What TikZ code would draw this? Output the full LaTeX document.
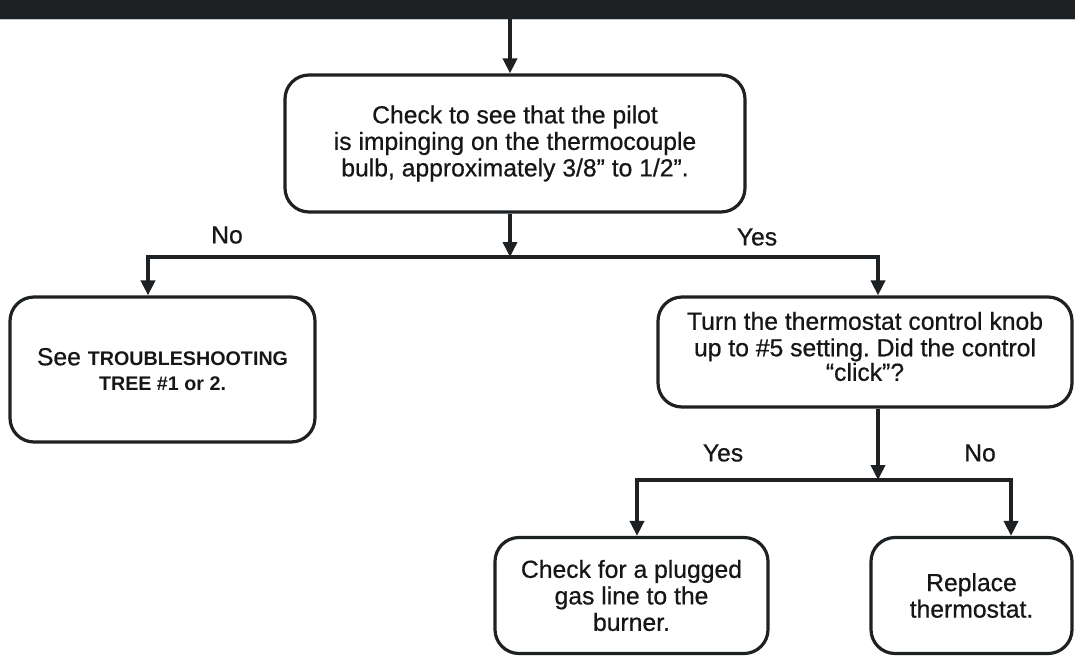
\documentclass[tikz,border=0pt]{standalone}
\usepackage{fontspec}
\setmainfont{Liberation Sans}[UprightFeatures={FakeBold=0.6}]
\usetikzlibrary{arrows.meta}
\definecolor{ink}{HTML}{1E2124}
\definecolor{txt}{HTML}{161616}
\definecolor{barline}{HTML}{C4C6C8}
\frenchspacing
\tikzset{
  box/.style={draw=ink, line width=3.2pt, rounded corners=24pt, fill=white,
    inner sep=0pt, align=center, text=txt,
    font=\fontsize{24.7}{26.5}\selectfont},
  conn/.style={draw=ink, line width=3.6pt},
  arr/.style={conn, -{Triangle[width=14pt,length=15pt]}},
  lbl/.style={text=txt, inner sep=0pt, font=\fontsize{24.7}{26.5}\selectfont}
}
\begin{document}
\begin{tikzpicture}[x=1pt,y=-1pt]
\useasboundingbox (0,0) rectangle (1075,656);
% top bar
\fill[ink] (0,0) rectangle (1075,18.5);
\fill[barline] (0,18.5) rectangle (1075,20);
\coordinate (top) at (510,18.5);

% boxes
\node[box, minimum width=460pt, minimum height=137pt] (main) at (515,143.5)
  {Check to see that the pilot\\is impinging on the thermocouple\\bulb, approximately 3/8” to 1/2”.};
\node[box, minimum width=305pt, minimum height=145pt] (left) at (162.5,369.5)
  {See {\bfseries\fontsize{19.7}{26}\selectfont TROUBLESHOOTING}\\[-1pt]{\bfseries\fontsize{19.7}{26}\selectfont TREE \#1 or 2.}};
\node[box, minimum width=414pt, minimum height=110pt] (thermo) at (865,352)
  {\rule{0pt}{27pt}Turn the thermostat control knob\\up to \#5 setting. Did the control\\[-2pt]“click”?\\[-6pt]};
\node[box, minimum width=273pt, minimum height=116pt] (plug) at (631.5,595.5)
  {Check for a plugged\\gas line to the\\burner.};
\node[box, minimum width=201pt, minimum height=116pt] (repl) at (971.5,595.5)
  {Replace\\thermostat.};

% junctions
\coordinate (j1) at (510,257);
\coordinate (jl) at (148,257);
\coordinate (jr) at (878,257);
\coordinate (j2) at (878,480);
\coordinate (jbl) at (637,480);
\coordinate (jbr) at (1011,480);

% connectors
\draw[arr] (top) -- (main.north -| top);
\draw[arr] (main.south -| j1) -- (j1);
\draw[conn, line cap=rect] (jl) -- (jr);
\draw[arr] (jl) -- (left.north -| jl);
\draw[arr] (jr) -- (thermo.north -| jr);
\draw[arr] (thermo.south -| j2) -- (j2);
\draw[conn, line cap=rect] (jbl) -- (jbr);
\draw[arr] (jbl) -- (plug.north -| jbl);
\draw[arr] (jbr) -- (repl.north -| jbr);

% labels
\node[lbl] (no1) at (227,235) {No};
\node[lbl] (yes1) at (757,237) {Yes};
\node[lbl] (yes2) at (723,453) {Yes};
\node[lbl] (no2) at (980,453) {No};
\end{tikzpicture}
\end{document}
